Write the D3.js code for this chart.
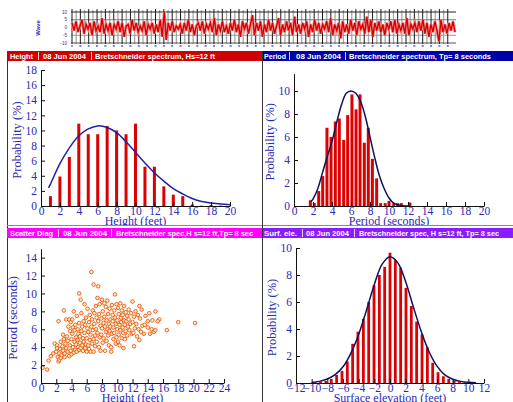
<!DOCTYPE html>
<html>
<head>
<meta charset="utf-8">
<script src="https://cdn.jsdelivr.net/npm/d3@7"></script>
<style>
  body { margin: 0; background: #fff; }
  svg { display: block; }
</style>
</head>
<body>
<div id="chart"></div>
<script>
// ---- data ----
// wave record (feet), one sample every ~2px
const waveY = [3,-2,4,-3,1,5,-4,2,-1,3,-5,4,-2,1,-3,6,-4,2,-2,3,
  -5,2,-1,4,-3,3,-6,1,2,-4,5,-2,3,-3,1,-2,4,-5,2,-1,
  3,-4,2,-3,5,-6,10,-8,3,-2,4,-3,1,-1,2,-4,3,-2,5,-3,
  2,-5,1,3,-2,4,-4,2,-1,3,-3,6,-5,2,-2,4,-3,1,-4,3,
  -2,5,-3,2,-6,4,-1,3,-4,2,8,-5,3,-2,4,-6,2,-3,5,-2,
  3,-4,1,6,-5,2,-3,4,-2,3,-5,7,-3,2,-4,3,-1,4,-6,2,
  -3,5,-2,3,-4,2,-1,4,-3,6,-5,2,-2,3,-7,4,-3,2,-4,5,
  -2,3,-5,4,-1,2,-4,7,-3,5,-6,3,-2,4,-3,2,-5,3,-1,4,
  -3,5,-4,2,-2,3,-4,6,-5,2,-1,3,-3,4,-2,5,-4,3,-6,2,
  -3,4,-2,-9,5,-3,2,-4,3,-2,4,-3];
const waveTicks = ["10", "5", "0", "-5", "-10"];

// height histogram
const heightBins = [1,2,3,4,5,6,7,8,9,10,11,12,13,14,15,16,17,18,19];
const heightProb = [1.3,3.9,6.5,10.9,9.5,9.5,10.6,10.0,9.5,10.9,5.2,5.2,2.6,1.5,1.3,0.2,0.05,0.15,0.05];
const heightCurveX = [0.8,1,2,3,4,5,6,7,8,9,10,11,12,13,14,15,16,17,18,19,20];
const heightCurveY = [2.4,2.9,5.6,7.7,9.3,10.2,10.6,10.4,9.7,8.5,7.1,5.7,4.4,3.3,2.3,1.6,1.0,0.6,0.4,0.25,0.15];

// period histogram
const periodBins = [1.72,2.14,2.6,3.02,3.47,3.9,4.35,4.77,5.23,5.65,6.1,6.53,6.95,7.4,7.82,8.25,8.7,9.12,9.6,10.0,10.5,10.9,11.3,12.2];
const periodProb = [0.5,0.25,1.3,2.6,6.8,6.0,7.35,7.6,5.75,7.9,9.7,8.4,9.7,5.5,6.8,4.1,2.4,0.25,0.25,0.45,0.25,0.25,0.25,0.3];
const periodCurveX = [1.8,2,2.5,3,3.5,4,4.5,5,5.5,6,6.5,7,7.5,8,8.5,9,9.5,10,10.5,11,11.5,12];
const periodCurveY = [0.4,0.6,1.5,2.9,4.3,5.6,7.3,8.8,9.8,10.0,9.8,9.1,7.8,6.0,4.2,2.6,1.5,0.7,0.25,0.08,0.02,0];

// scatter: [height ft, period s]
const scatterPts = [
  [0.2,1.7],[0.8,1.5],[1.0,2.5],[1.3,3.0],[1.6,3.3],[1.8,4.4],[2.1,4.2],[2.3,6.9],
  [2.0,3.5],[2.1,3.9],[2.2,2.9],[2.3,2.4],[2.4,2.6],[2.4,3.3],[2.5,3.8],[2.6,4.6],[2.6,2.8],[2.7,3.1],
  [2.8,4.1],[2.9,5.4],[2.9,3.6],[3.0,8.1],[3.0,4.9],[3.1,3.3],[3.1,2.9],[3.2,4.4],[3.3,3.9],[3.3,7.1],
  [3.4,5.2],[3.5,3.5],[3.5,4.7],[3.6,6.3],[3.7,3.0],[3.7,7.1],[3.8,4.2],[3.8,5.8],[3.9,3.6],[3.9,6.8],
  [4.0,4.9],[4.0,3.2],[4.1,7.1],[4.1,5.5],[4.2,4.0],[4.2,6.2],[4.3,3.4],[4.3,8.0],[4.4,4.6],[4.4,5.9],
  [4.5,3.7],[4.5,6.5],[4.6,4.3],[4.6,5.1],[4.7,7.5],[4.7,3.5],[4.8,4.8],[4.8,6.0],[4.9,4.0],[4.9,5.5],
  [5.0,10.0],[5.0,3.7],[5.0,6.7],[5.1,4.5],[5.1,5.2],[5.2,9.3],[5.2,3.9],[5.3,7.8],[5.3,5.8],[5.4,4.2],
  [5.4,6.3],[5.5,3.6],[5.5,5.0],[5.6,6.9],[5.6,4.6],[5.7,8.8],[5.7,5.6],[5.8,3.9],[5.8,6.5],[5.9,4.3],[5.9,7.3],
  [6.0,5.0],[6.0,3.5],[6.1,6.1],[6.1,8.3],[6.2,4.2],[6.2,5.7],[6.3,6.8],[6.3,3.8],[6.4,4.8],[6.4,7.6],
  [6.5,5.4],[6.5,3.5],[6.6,12.4],[6.6,6.3],[6.7,4.4],[6.7,7.1],[6.8,5.9],[6.8,8.1],[6.9,11.0],[6.9,3.5],
  [6.9,4.9],[7.0,6.6],[7.0,7.8],[7.1,5.3],[7.1,4.1],[7.2,8.6],[7.2,6.0],[7.3,4.6],[7.3,7.3],[7.4,5.6],
  [7.4,9.5],[7.5,10.8],[7.5,6.9],[7.6,4.0],[7.6,7.7],[7.7,5.1],[7.7,8.8],[7.8,6.4],[7.8,3.6],[7.9,7.2],[7.9,5.4],
  [8.0,9.3],[8.0,6.1],[8.1,4.5],[8.1,8.0],[8.2,6.7],[8.2,5.0],[8.3,8.9],[8.3,7.4],[8.4,3.6],[8.4,6.3],
  [8.5,5.7],[8.5,8.5],[8.6,7.0],[8.6,4.7],[8.7,9.2],[8.7,6.0],[8.8,5.3],[8.8,7.7],[8.9,6.6],[8.9,4.2],
  [9.0,8.3],[9.0,5.8],[9.1,7.1],[9.1,6.3],[9.2,3.5],[9.2,4.0],[9.3,8.7],[9.3,5.5],[9.4,6.9],[9.4,7.6],
  [9.5,4.9],[9.5,6.2],[9.6,8.1],[9.6,5.6],[9.7,9.9],[9.7,7.3],[9.8,4.4],[9.8,6.6],[9.9,8.8],[9.9,5.1],
  [10.0,7.0],[10.0,6.0],[10.1,4.6],[10.1,8.4],[10.2,5.4],[10.2,7.7],[10.3,6.5],[10.3,4.2],[10.4,8.9],[10.4,5.9],
  [10.5,7.3],[10.5,6.8],[10.6,5.0],[10.6,8.1],[10.7,6.2],[10.7,7.6],[10.8,5.6],[10.8,3.9],[10.9,7.0],[10.9,8.6],
  [11.0,6.5],[11.0,4.9],[11.1,7.9],[11.1,5.8],[11.2,6.9],[11.3,7.5],[11.3,5.3],[11.4,6.3],[11.5,8.2],[11.5,7.1],
  [11.6,5.9],[11.7,6.6],[11.8,7.8],[11.9,5.5],
  [12.0,9.1],[12.0,6.8],[12.1,5.6],[12.2,4.1],[12.2,7.4],[12.3,6.1],[12.4,8.0],[12.5,6.6],[12.6,5.2],[12.7,7.6],
  [12.8,6.0],[12.9,8.6],[12.9,4.8],[13.0,7.2],[13.1,5.7],[13.2,8.2],[13.3,6.4],[13.5,5.5],[13.7,7.5],
  [14.0,6.9],[14.2,7.8],[14.3,5.5],[14.5,6.0],[14.6,7.0],[14.8,5.7],[15.0,8.0],[15.0,5.9],[15.5,7.1],[15.3,6.9],
  [16.5,5.9],[18.0,6.8],[20.2,6.7],[14.0,6.2],[13.6,6.5]
];

// surface elevation histogram
const elevBins = [-9.54,-8.86,-8.18,-7.5,-6.81,-6.13,-5.45,-4.77,-4.09,-3.4,-2.72,-2.04,-1.36,-0.68,0,
  0.68,1.36,2.04,2.72,3.4,4.09,4.77,5.45,6.13,6.81,7.5,8.18,8.86,9.54];
const elevProb = [0.05,0.1,0.15,0.3,0.6,0.9,1.6,2.9,3.8,4.75,6.0,7.25,8.0,8.6,9.65,
  9.1,8.55,7.05,5.7,4.55,3.6,2.65,1.5,0.8,0.5,0.3,0.15,0.1,0.05];
const elevCurveX = [-10,-9,-8,-7,-6,-5,-4,-3,-2,-1,0,1,2,3,4,5,6,7,8,9,10,11];
const elevCurveY = [0.04,0.12,0.3,0.62,1.2,2.2,3.6,5.4,7.3,8.8,9.35,8.9,7.5,5.6,3.8,2.3,1.25,0.6,0.28,0.12,0.05,0.02];

// ---- drawing ----
const blue = "#2a2ab4";
const svg = d3.select("#chart").append("svg")
  .attr("width", 513).attr("height", 402)
  .style("font-family", "'Liberation Serif', serif");

// top wave strip
const wx = d3.scaleLinear().domain([0, waveY.length - 1]).range([72, 455]);
const wy = d3.scaleLinear().domain([-10, 10]).range([43, 12]);
const strip = svg.append("g");
const gridX = d3.range(72, 456, 8.35);
strip.selectAll(".gmin").data(gridX.slice(0, -1)).enter().append("line")
  .attr("x1", d => d + 4.2).attr("x2", d => d + 4.2).attr("y1", 10).attr("y2", 44)
  .attr("stroke", "#a8a8a8").attr("stroke-width", 1.3);
[[10, "#222"], [5, "#777"], [-5, "#999"], [-10, "#555"]].forEach(function(h) {
  strip.append("line").attr("x1", 71).attr("x2", 456)
    .attr("y1", wy(h[0])).attr("y2", wy(h[0]))
    .attr("stroke", h[1]).attr("stroke-width", 1);
});
strip.selectAll(".gmaj").data(gridX).enter().append("line")
  .attr("x1", d => d).attr("x2", d => d).attr("y1", 9).attr("y2", 44)
  .attr("stroke", "#1a1a1a").attr("stroke-width", 1);
const waveLine = d3.line().x((d, i) => wx(i)).y(d => wy(d));
strip.append("path").datum(waveY).attr("d", waveLine)
  .attr("fill", "none").attr("stroke", "#f29090").attr("stroke-width", 3);
strip.append("path").datum(waveY).attr("d", waveLine)
  .attr("fill", "none").attr("stroke", "#d80000").attr("stroke-width", 1.4);
strip.selectAll(".wt").data(waveTicks).enter().append("text")
  .attr("x", 67).attr("y", d => wy(+d) + 1.6)
  .attr("text-anchor", "end").attr("font-size", 4.5)
  .attr("font-family", "'Liberation Sans', sans-serif").attr("fill", blue).text(d => d);
strip.append("text").attr("transform", "translate(40,28) rotate(-90)")
  .attr("text-anchor", "middle").attr("font-size", 6).attr("font-weight", "bold")
  .attr("font-family", "'Liberation Sans', sans-serif").attr("fill", blue).text("Wave");
strip.selectAll(".wd").data(gridX).enter().append("line")
  .attr("x1", d => d - 1).attr("x2", d => d + 1).attr("y1", 46).attr("y2", 46)
  .attr("stroke", "#2a2ad0").attr("stroke-width", 1.2);

// panel frames and headers
svg.append("line").attr("x1", 7.5).attr("x2", 7.5).attr("y1", 51).attr("y2", 402).attr("stroke", "#333");

const headers = [
  { x: 7, w: 255, y: 51, h: 10, color: "#d00000", seps: [38, 91],
    parts: [["Height", 10, 23], ["08 Jun 2004", 43, 43], ["Bretschneider spectrum, Hs=12 ft", 95, 120]] },
  { x: 263, w: 250, y: 51, h: 10, color: "#0000a8", seps: [289, 345],
    parts: [["Period", 264, 22], ["08 Jun 2004", 296, 45], ["Bretschneider spectrum, Tp= 8 seconds", 349, 142]] },
  { x: 7, w: 255, y: 228, h: 10, color: "#ff00ff", seps: [58, 111],
    parts: [["Scatter Diag", 10, 43], ["08 Jun 2004", 63, 44], ["Bretschneider spec,H s=12 ft,Tp= 8 sec", 116, 137]] },
  { x: 263, w: 250, y: 228, h: 10, color: "#8a1cff", seps: [302, 354],
    parts: [["Surf. ele.", 264, 33], ["08 Jun 2004", 306, 43], ["Bretschneider spec, H s=12 ft, Tp= 8 sec", 359, 140]] }
];

// axis helper: major ticks with labels, minor ticks, ticks pointing inward
function drawAxes(x, y, xMajor, xMinor, yMajor, yMinor, xTitle, yTitle, xTitleY, yTitleX) {
  const x0 = x.range()[0], y0 = y.range()[0];
  const gx = svg.append("g").attr("transform", "translate(0," + y0 + ")");
  gx.call(d3.axisBottom(x).tickValues(xMinor).tickSize(-2).tickSizeOuter(0).tickFormat(""));
  gx.call(d3.axisBottom(x).tickValues(xMajor).tickSize(-4).tickSizeOuter(0).tickPadding(1).tickFormat(d3.format("d")));
  const gy = svg.append("g").attr("transform", "translate(" + x0 + ",0)");
  gy.call(d3.axisLeft(y).tickValues(yMinor).tickSize(-2).tickSizeOuter(0).tickFormat(""));
  gy.call(d3.axisLeft(y).tickValues(yMajor).tickSize(-4).tickSizeOuter(0).tickPadding(4).tickFormat(d3.format("d")));
  [gx, gy].forEach(g => {
    g.attr("font-family", "'Liberation Serif', serif").attr("font-size", 11.5);
    g.selectAll("text").attr("fill", blue);
    g.selectAll("path,line").attr("stroke", "#111");
  });
  svg.append("text").attr("x", (x.range()[0] + x.range()[1]) / 2).attr("y", xTitleY)
    .attr("text-anchor", "middle").attr("font-size", 12).attr("fill", blue).text(xTitle);
  svg.append("text").attr("transform", "translate(" + yTitleX + "," + ((y.range()[0] + y.range()[1]) / 2 + 2) + ") rotate(-90)")
    .attr("text-anchor", "middle").attr("font-size", 12.5).attr("fill", blue).text(yTitle);
}

function drawBars(x, y, bins, vals, w) {
  svg.append("g").selectAll("rect").data(bins).enter().append("rect")
    .attr("x", d => x(d) - w / 2).attr("width", w)
    .attr("y", (d, i) => y(vals[i])).attr("height", (d, i) => y(0) - y(vals[i]))
    .attr("fill", "#dd0000");
}

function drawCurve(x, y, xs, ys, color) {
  svg.append("path").datum(xs)
    .attr("d", d3.line().curve(d3.curveCatmullRom).x(d => x(d)).y((d, i) => y(ys[i])))
    .attr("fill", "none").attr("stroke", color).attr("stroke-width", 1.5);
}

// panel 1: height
const x1 = d3.scaleLinear().domain([0, 20]).range([41, 230]);
const y1 = d3.scaleLinear().domain([0, 18]).range([206, 70]);
drawBars(x1, y1, heightBins, heightProb, 3);
drawCurve(x1, y1, heightCurveX, heightCurveY, "#2020a8");
drawAxes(x1, y1, d3.range(0, 21, 2), d3.range(0, 20.01, 0.5), d3.range(0, 19, 2), d3.range(0, 18.01, 0.5),
  "Height (feet)", "Probability (%)", 225, 21);

// panel 2: period
const x2 = d3.scaleLinear().domain([0, 20]).range([294, 484]);
const y2 = d3.scaleLinear().domain([0, 11.5]).range([206, 73.7]);
drawBars(x2, y2, periodBins, periodProb, 3);
drawCurve(x2, y2, periodCurveX, periodCurveY, "#101060");
drawAxes(x2, y2, d3.range(0, 21, 2), d3.range(0, 20.01, 0.5), d3.range(0, 11, 2), d3.range(0, 11.51, 0.5),
  "Period (seconds)", "Probability (%)", 225, 274);

// panel 3: scatter
const x3 = d3.scaleLinear().domain([0, 24]).range([41, 224]);
const y3 = d3.scaleLinear().domain([0, 15]).range([383, 248.7]);
svg.append("g").selectAll("circle").data(scatterPts).enter().append("circle")
  .attr("cx", d => x3(d[0])).attr("cy", d => y3(d[1])).attr("r", 1.8)
  .attr("fill", "#fff2b0").attr("stroke", "#e8400c").attr("stroke-width", 0.8);
drawAxes(x3, y3, d3.range(0, 25, 2), d3.range(0, 24.01, 0.5), d3.range(0, 15, 2), d3.range(0, 15.01, 0.5),
  "Height (feet)", "Period (seconds)", 402, 17);

// panel 4: surface elevation
const x4 = d3.scaleLinear().domain([-12, 12]).range([296, 484]);
const y4 = d3.scaleLinear().domain([0, 10]).range([383, 248]);
drawBars(x4, y4, elevBins, elevProb, 2.8);
drawCurve(x4, y4, elevCurveX, elevCurveY, "#101060");
drawAxes(x4, y4, d3.range(-12, 13, 2), d3.range(-12, 12.01, 0.5), d3.range(0, 11, 2), d3.range(0, 10.01, 0.5),
  "Surface elevation (feet)", "Probability (%)", 402, 276);

// separator line and header bars drawn last so they sit over the clipped titles
svg.append("rect").attr("x", 8).attr("y", 226).attr("width", 505).attr("height", 2).attr("fill", "#fff");
svg.append("line").attr("x1", 7).attr("x2", 513).attr("y1", 225.5).attr("y2", 225.5).attr("stroke", "#888");
headers.forEach(function(hd) {
  const g = svg.append("g");
  g.append("rect").attr("x", hd.x).attr("y", hd.y).attr("width", hd.w).attr("height", hd.h).attr("fill", hd.color);
  hd.seps.forEach(s => g.append("line").attr("x1", s + 0.5).attr("x2", s + 0.5)
    .attr("y1", hd.y + 1).attr("y2", hd.y + hd.h - 1).attr("stroke", "#fff").attr("stroke-width", 0.8));
  hd.parts.forEach(p => g.append("text").attr("x", p[1]).attr("y", hd.y + hd.h - 2)
    .attr("font-family", "'Liberation Sans', Arial, sans-serif").attr("font-weight", "bold")
    .attr("font-size", 8).attr("fill", "#fff")
    .attr("textLength", p[2]).attr("lengthAdjust", "spacingAndGlyphs").text(p[0]));
});
svg.append("line").attr("x1", 262.5).attr("x2", 262.5).attr("y1", 51).attr("y2", 402).attr("stroke", "#333");
</script>
</body>
</html>
